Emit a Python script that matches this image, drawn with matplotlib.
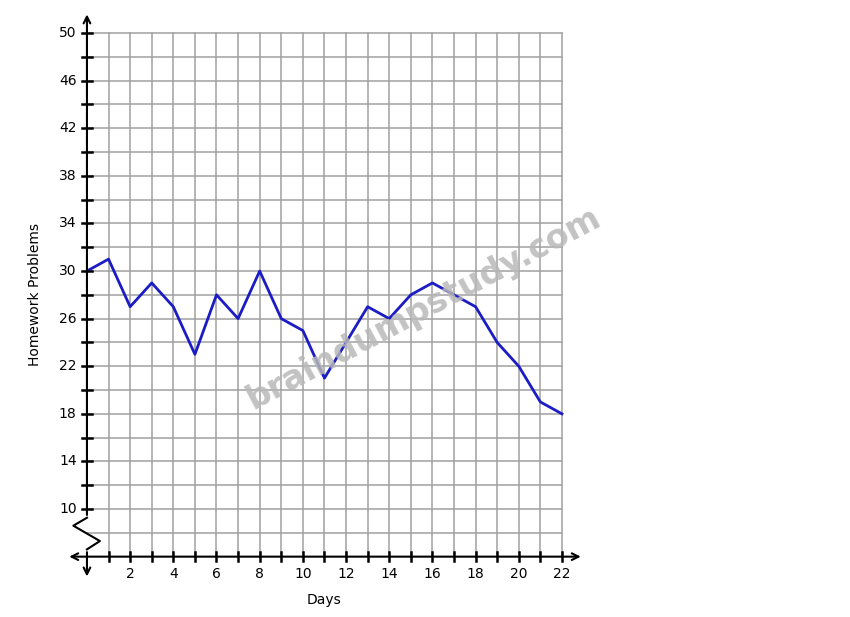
import matplotlib
matplotlib.use("Agg")
import matplotlib.pyplot as plt

# values
days = list(range(0, 23))
problems = [30, 31, 27, 29, 27, 23, 28, 26, 30, 26, 25, 21, 24, 27, 26, 28, 29, 28, 27, 24, 22, 19, 18]
y_labels = [10, 14, 18, 22, 26, 30, 34, 38, 42, 46, 50]
x_labels = [2, 4, 6, 8, 10, 12, 14, 16, 18, 20, 22]
y_axis_at = 6  # where the x-axis sits (axis break below 10)

fig = plt.figure(figsize=(8.5, 6.17), dpi=100)
ax = fig.add_axes([0.0769, 0.0496, 0.6147, 0.9451])
ax.set_xlim(-1, 23.2)
ax.set_ylim(3.5, 52.5)
ax.axis("off")

# grid
for d in days[1:]:
    ax.plot([d, d], [y_axis_at, 50], color="#a0a0a0", lw=1.1, zorder=1)
for v in range(8, 51, 2):
    ax.plot([0, 22], [v, v], color="#a0a0a0", lw=1.1, zorder=1)

# data line
ax.plot(days, problems, color="#1c1cc4", lw=2, zorder=3)

# axes with arrows
ax.annotate("", xy=(23.0, y_axis_at), xytext=(-0.95, y_axis_at),
            arrowprops=dict(arrowstyle="<->", color="black", lw=1.5, mutation_scale=12), zorder=4)
ax.annotate("", xy=(0, 51.8), xytext=(0, 9.27),
            arrowprops=dict(arrowstyle="->", color="black", lw=1.5, mutation_scale=12), zorder=4)
ax.annotate("", xy=(0, 4.1), xytext=(0, 6.61),
            arrowprops=dict(arrowstyle="->", color="black", lw=1.5, mutation_scale=12), zorder=4)
# axis break zigzag
ax.plot([0, -0.63, 0.60, 0], [9.27, 8.6, 7.31, 6.61], color="black", lw=1.5, zorder=4)

# y ticks
for v in range(10, 51, 2):
    ax.plot([-0.23, 0.23], [v, v], color="black", lw=1.8, zorder=4)
for v in y_labels:
    ax.text(-0.48, v, str(v), ha="right", va="center", fontsize=10)

# x ticks
for d in days[1:]:
    ax.plot([d, d], [y_axis_at - 0.4, y_axis_at + 0.4], color="black", lw=1.8, zorder=4)
for d in x_labels:
    ax.text(d, y_axis_at - 0.9, str(d), ha="center", va="top", fontsize=10)

fig.text(35 / 850, 1 - 295 / 617, "Homework Problems", rotation=90,
         ha="center", va="center", fontsize=10)
fig.text(324 / 850, 1 - 600 / 617, "Days", ha="center", va="center", fontsize=10)

# watermark
fig.text(423 / 850, 1 - 308 / 617, "braindumpstudy.com", rotation=28,
         ha="center", va="center", fontsize=24, fontweight="bold",
         color="#b8b8b8", alpha=0.85, zorder=5)

fig.savefig("out.png", dpi=100)
